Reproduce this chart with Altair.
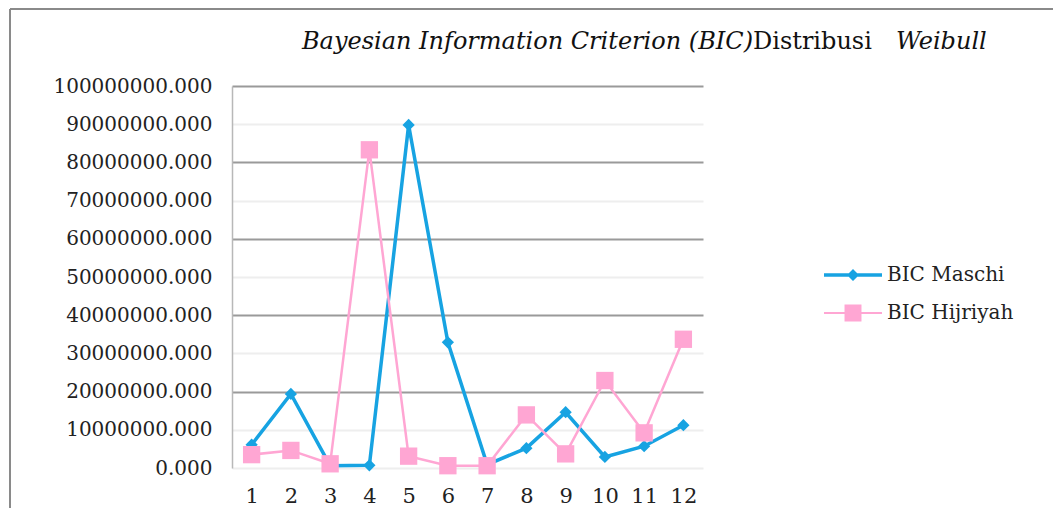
import altair as alt
import pandas as pd

# ---- data ----
periods = [1, 2, 3, 4, 5, 6, 7, 8, 9, 10, 11, 12]
bic_maschi = [6100000, 19400000, 600000, 700000, 89800000, 32900000,
              900000, 5200000, 14600000, 2900000, 5700000, 11200000]
bic_hijriyah = [3500000, 4600000, 1100000, 83300000, 3100000, 600000,
                600000, 13900000, 3700000, 22900000, 9200000, 33700000]
series_names = ["BIC Maschi", "BIC Hijriyah"]
y_ticks = [0, 10000000, 20000000, 30000000, 40000000, 50000000,
           60000000, 70000000, 80000000, 90000000, 100000000]

colors = ["#17A3E2", "#FFA6D3"]
FONT = "DejaVu Serif"

rows = []
for p, v in zip(periods, bic_maschi):
    rows.append({"period": p, "value": v, "series": series_names[0]})
for p, v in zip(periods, bic_hijriyah):
    rows.append({"period": p, "value": v, "series": series_names[1]})
df = pd.DataFrame(rows)

W, H = 471, 382

x_enc = alt.X("period:O", title=None,
              axis=alt.Axis(labelAngle=0, ticks=False, domain=False, grid=False,
                            labelPadding=17, labelFontSize=21, labelFont=FONT,
                            labelColor="#222"))
y_enc = alt.Y("value:Q", title=None,
              scale=alt.Scale(domain=[0, 100000000], nice=False),
              axis=alt.Axis(values=y_ticks, format=".3f", ticks=False,
                            labelPadding=20, labelFontSize=20, labelFont=FONT,
                            labelColor="#222", domain=True, domainColor="#b8b8b8",
                            domainWidth=1.5, grid=True,
                            gridColor={"condition": {"test": "datum.value % 20000000 === 0 && datum.value > 0",
                                                     "value": "#9a9a9a"},
                                       "value": "#eeeeee"},
                            gridWidth=2))

base = alt.Chart(df)
sel_m = alt.datum.series == series_names[0]
sel_h = alt.datum.series == series_names[1]

line_m = base.transform_filter(sel_m).mark_line(strokeWidth=3.5, color=colors[0]).encode(
    x=x_enc, y=y_enc, order=alt.Order("period:Q"))
pts_m = base.transform_filter(sel_m).mark_point(
    filled=True, shape="diamond", size=150, opacity=1, color=colors[0]).encode(x=x_enc, y=y_enc)
line_h = base.transform_filter(sel_h).mark_line(strokeWidth=2.5, color=colors[1]).encode(
    x=x_enc, y=y_enc, order=alt.Order("period:Q"))
pts_h = base.transform_filter(sel_h).mark_point(
    filled=True, shape="square", size=300, opacity=1, color=colors[1]).encode(x=x_enc, y=y_enc)

# legend symbols: line segment with the series' marker in the middle
path_m = "M-3.625,-0.22L3.625,-0.22L3.625,0.22L-3.625,0.22Z M0,-0.75L0.75,0L0,0.75L-0.75,0Z"
path_h = "M-3.625,-0.13L3.625,-0.13L3.625,0.13L-3.625,0.13Z M-1.06,-1.06L1.06,-1.06L1.06,1.06L-1.06,1.06Z"

leg = alt.Legend(title=None, orient="none", legendX=611, legendY=179,
                 symbolSize=256, symbolStrokeWidth=0, labelOffset=24,
                 labelFont=FONT, labelFontSize=20, labelColor="#222",
                 rowPadding=18, padding=0, symbolOpacity=1)

legend_layer = base.mark_point(filled=True, opacity=0).encode(
    x=x_enc, y=y_enc,
    color=alt.Color("series:N", scale=alt.Scale(domain=series_names, range=colors), legend=leg),
    shape=alt.Shape("series:N", scale=alt.Scale(domain=series_names, range=[path_m, path_h]),
                    legend=leg),
)

one = alt.Data(values=[{"a": 1}])
t1 = alt.Chart(one).mark_text(font=FONT, fontSize=24, fontStyle="italic", align="right",
                              baseline="middle", color="#111").encode(
    x=alt.value(521), y=alt.value(-44), text=alt.value("Bayesian Information Criterion (BIC)"))
t2 = alt.Chart(one).mark_text(font=FONT, fontSize=24, align="left",
                              baseline="middle", color="#111").encode(
    x=alt.value(521), y=alt.value(-44), text=alt.value("Distribusi"))
t3 = alt.Chart(one).mark_text(font=FONT, fontSize=24, fontStyle="italic", align="left",
                              baseline="middle", color="#111").encode(
    x=alt.value(664), y=alt.value(-44), text=alt.value("Weibull"))

frame_v = alt.Chart(one).mark_rule(color="#8a8a8a", strokeWidth=2).encode(
    x=alt.value(-222), y=alt.value(-77), y2=alt.value(440))
frame_h = alt.Chart(one).mark_rule(color="#8a8a8a", strokeWidth=2).encode(
    x=alt.value(-222), x2=alt.value(840), y=alt.value(-77))

chart = alt.layer(line_m, pts_m, line_h, pts_h, legend_layer, t1, t2, t3, frame_v, frame_h).properties(
    width=W, height=H,
    autosize=alt.AutoSizeParams(type="none"),
    padding={"left": 224, "top": 78, "right": 350, "bottom": 40},
    background="white",
).configure_view(stroke=None)

chart.save("out.html", embed_options={"renderer": "svg", "actions": False})
